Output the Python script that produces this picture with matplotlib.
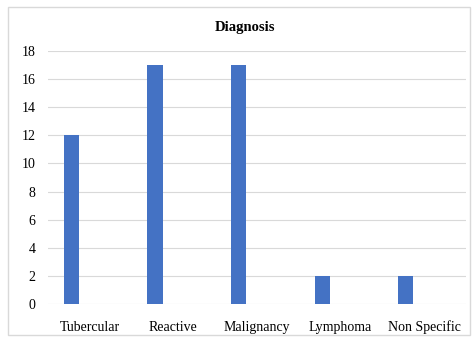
import matplotlib
matplotlib.use("Agg")
import matplotlib.pyplot as plt
from matplotlib.patches import Rectangle
import numpy as np

categories = ["Tubercular", "Reactive", "Malignancy", "Lymphoma", "Non Specific"]
values = [12, 17, 17, 2, 2]
yticks = [0, 2, 4, 6, 8, 10, 12, 14, 16, 18]

plt.rcParams['font.family'] = ['Liberation Serif', 'DejaVu Serif']

fig = plt.figure(figsize=(4.75, 3.43), dpi=100)
fig.patch.set_facecolor('white')
fig.patches.append(Rectangle((8/475, 1 - 335/343), (470-8)/475, (335-7)/343,
                             transform=fig.transFigure, fill=False,
                             edgecolor='#d9d9d9', linewidth=1))
ax = fig.add_axes([48/475, 1 - 304/343, (466-48)/475, (304-51)/343])
x = np.arange(len(categories))
ax.bar(x - 0.22, values, width=0.18, color='#4472C4', zorder=3)
ax.set_xlim(-0.5, len(categories) - 0.5)
ax.set_ylim(0, 18)
ax.set_yticks(yticks)
ax.set_xticks(x)
ax.set_xticklabels(categories, fontsize=10)
ax.tick_params(axis='y', labelsize=10, length=0, pad=9)
ax.tick_params(axis='x', length=0, pad=12)
ax.grid(axis='y', color='#d9d9d9', linewidth=0.8, zorder=0)
for s in ax.spines.values():
    s.set_visible(False)
fig.text(245/475, 1 - 27/343, "Diagnosis", ha='center', va='center',
         fontsize=10.5, fontweight='bold')
fig.savefig("out.png", dpi=100, facecolor='white')
